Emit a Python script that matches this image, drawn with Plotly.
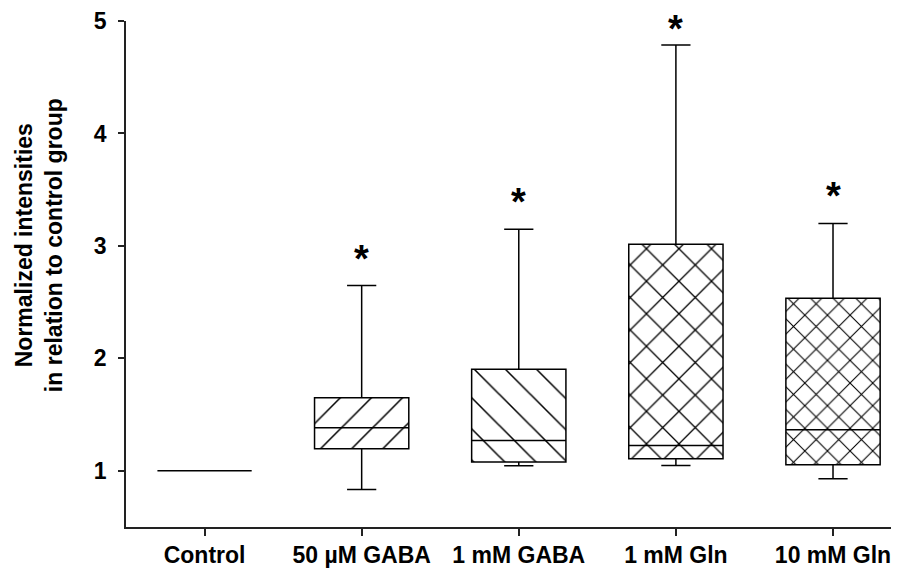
import plotly.graph_objects as go

categories = ["Control", "50 µM GABA", "1 mM GABA", "1 mM Gln", "10 mM Gln"]
q1 = [1.0, 1.196, 1.077, 1.107, 1.053]
median = [1.0, 1.382, 1.27, 1.225, 1.364]
q3 = [1.0, 1.649, 1.904, 3.015, 2.535]
lower_whisker = [1.0, 0.834, 1.044, 1.047, 0.929]
upper_whisker = [1.0, 2.647, 3.148, 4.787, 3.20]
star_y = [None, 2.94, 3.44, 4.98, 3.50]
patterns = ["", "/", "\\", "x", "x"]
pattern_sizes = [10, 22, 22, 23, 16]
pattern_solidity = [0.1, 0.07, 0.07, 0.11, 0.13]

y_ticks = [1, 2, 3, 4, 5]
y_title = "<b>Normalized intensities<br>in relation to control group</b>"

FONT = "Arial, Liberation Sans, sans-serif"

fig = go.Figure()

# hatched box fills
for i, c in enumerate(categories):
    if q3[i] - q1[i] <= 0:
        continue
    fig.add_trace(go.Bar(
        x=[c], y=[q3[i] - q1[i]], base=[q1[i]], width=0.6,
        marker=dict(color="white", line=dict(width=0),
                    pattern=dict(shape=patterns[i], fgcolor="black", bgcolor="white",
                                 fgopacity=1, size=pattern_sizes[i],
                                 solidity=pattern_solidity[i], fillmode="replace")),
        showlegend=False, hoverinfo="skip"))

fig.add_trace(go.Box(
    x=categories, q1=q1, median=median, q3=q3,
    lowerfence=lower_whisker, upperfence=upper_whisker,
    width=0.6, whiskerwidth=0.31, boxpoints=False,
    fillcolor="rgba(0,0,0,0)", line=dict(color="black", width=1.5),
    showlegend=False))

for c, s in zip(categories, star_y):
    if s is None:
        continue
    fig.add_annotation(x=c, y=s, xref="x", yref="y", text="<b>*</b>", showarrow=False,
                       yanchor="middle", yshift=-6,
                       font=dict(family=FONT, size=38, color="black"))

fig.add_annotation(x=-0.11, y=0.557, xref="paper", yref="paper", text=y_title,
                   textangle=-90, showarrow=False, xanchor="center", yanchor="middle",
                   xshift=-2,
                   font=dict(family=FONT, size=23, color="black"))

fig.update_layout(
    width=891, height=569,
    margin=dict(l=118, r=0, t=13, b=50),
    paper_bgcolor="white", plot_bgcolor="white",
    font=dict(family=FONT, color="black"),
    showlegend=False, bargap=0,
    xaxis=dict(type="category", categoryorder="array", categoryarray=categories,
               range=[-0.5, 4.42], showline=True, linecolor="#222",
               linewidth=1.5, ticks="outside", ticklen=7, tickwidth=1.5, tickcolor="#222",
               showgrid=False, zeroline=False,
               tickfont=dict(family=FONT, size=23, color="black", weight="bold")),
    yaxis=dict(range=[0.5, 5], tickvals=y_ticks, showline=True, linecolor="#222",
               linewidth=1.5, ticks="outside", ticklen=6, tickwidth=1.5, tickcolor="#222",
               showgrid=False, zeroline=False, ticklabelstandoff=7,
               tickfont=dict(family=FONT, size=23, color="black", weight="bold")),
)

fig.write_html("out.html")
